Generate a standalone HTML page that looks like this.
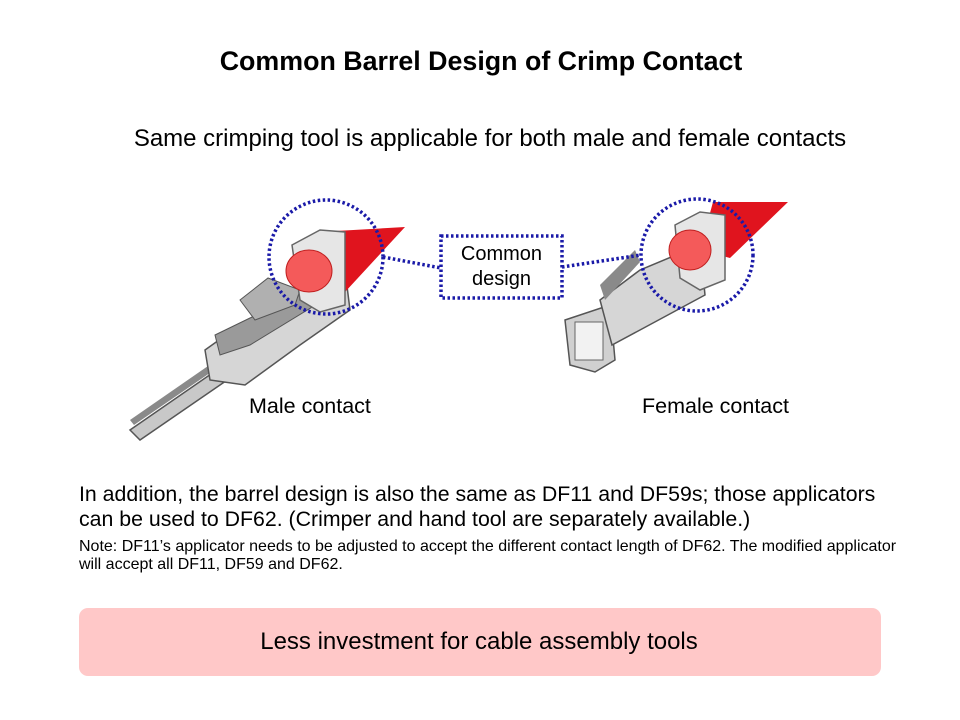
<!DOCTYPE html>
<html><head><style>
body{margin:0;background:#fff;}
#c{position:relative;width:960px;height:720px;overflow:hidden;font-family:"Liberation Sans",Arial,sans-serif;color:#000;}
.t{position:absolute;white-space:nowrap;}
</style></head><body><div id="c">
<svg width="960" height="720" style="position:absolute;left:0;top:0">
<!-- male contact -->
<polygon points="130,430 140,440 300,330 292,318" fill="#c8c8c8" stroke="#555" stroke-width="1.5"/>
<polygon points="134,425 290,318 286,312 130,420" fill="#8a8a8a"/>
<polygon points="205,350 240,325 345,270 350,310 300,345 245,385 210,380" fill="#d6d6d6" stroke="#555" stroke-width="1.5"/>
<polygon points="215,335 250,318 300,295 345,275 340,290 250,345 220,355" fill="#9a9a9a" stroke="#555" stroke-width="1"/>
<polygon points="240,300 268,278 300,290 295,305 255,320" fill="#b0b0b0" stroke="#555" stroke-width="1"/>
<polygon points="318,232 405,227 345,292 312,285" fill="#e0141e"/>
<polygon points="292,245 320,230 345,232 345,305 320,312 300,300" fill="#e6e6e6" stroke="#666" stroke-width="1.5"/>
<ellipse cx="309" cy="271" rx="23" ry="21" fill="#f45a5a" stroke="#c02020"/>
<!-- female contact -->
<polygon points="565,320 610,305 615,360 595,372 570,365" fill="#d0d0d0" stroke="#555" stroke-width="1.5"/>
<rect x="575" y="322" width="28" height="38" fill="#f2f2f2" stroke="#666"/>
<polygon points="600,300 640,270 700,245 705,295 640,330 612,345" fill="#d6d6d6" stroke="#555" stroke-width="1.5"/>
<polygon points="605,300 640,262 635,250 600,285" fill="#8a8a8a"/>
<polygon points="713,202 788,202 730,258 700,250" fill="#e0141e"/>
<polygon points="675,225 700,212 725,215 725,280 700,290 680,278" fill="#e6e6e6" stroke="#666" stroke-width="1.5"/>
<ellipse cx="690" cy="250" rx="21" ry="20" fill="#f45a5a" stroke="#c02020"/>
<!-- dotted circles & connectors -->
<g fill="none" stroke="#1a1aa8" stroke-width="3.5" stroke-dasharray="2.5 2.5">
<circle cx="326" cy="257" r="57"/>
<circle cx="697" cy="255" r="56"/>
<rect x="441" y="236" width="121" height="62"/>
<line x1="383" y1="257" x2="441" y2="268"/>
<line x1="562" y1="267" x2="641" y2="255"/>
</g>
</svg>
<div class="t" style="left:0;width:962px;text-align:center;top:46px;font-size:26.8px;font-weight:bold">Common Barrel Design of Crimp Contact</div>
<div class="t" style="left:0;width:980px;text-align:center;top:125px;font-size:24px">Same crimping tool is applicable for both male and female contacts</div>
<div class="t" style="left:441px;width:121px;text-align:center;top:242px;font-size:20px;line-height:25px">Common<br>design</div>
<div class="t" style="left:249px;top:394px;font-size:21.5px">Male contact</div>
<div class="t" style="left:642px;top:394px;font-size:21.5px">Female contact</div>
<div class="t" style="left:79px;top:482px;font-size:21.3px;line-height:25px">In addition, the barrel design is also the same as DF11 and DF59s; those applicators<br>can be used to DF62. (Crimper and hand tool are separately available.)</div>
<div class="t" style="left:79px;top:538px;font-size:16px;line-height:18px">Note: DF11’s applicator needs to be adjusted to accept the different contact length of DF62. The modified applicator<br>will accept all DF11, DF59 and DF62.</div>
<div style="position:absolute;left:79px;top:608px;width:802px;height:68px;background:#ffc8c8;border-radius:9px"></div>
<div class="t" style="left:79px;width:800px;text-align:center;top:628px;font-size:24px">Less investment for cable assembly tools</div>
</div></body></html>
